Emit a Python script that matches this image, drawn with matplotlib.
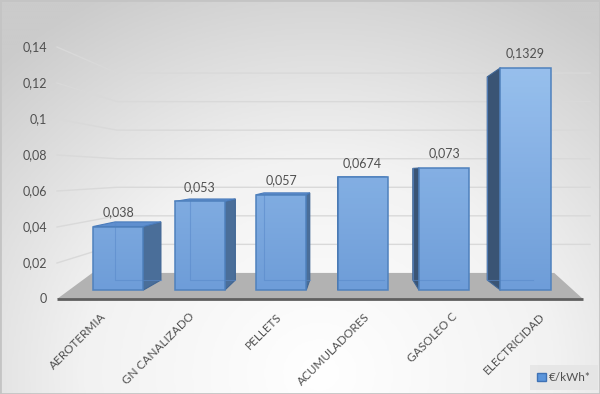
import numpy as np
import matplotlib.pyplot as plt
from matplotlib.patches import Polygon, Rectangle
from matplotlib.colors import LinearSegmentedColormap

# Data
categories = ["AEROTERMIA", "GN CANALIZADO", "PELLETS", "ACUMULADORES", "GASOLEO C", "ELECTRICIDAD"]
values = [0.038, 0.053, 0.057, 0.0674, 0.073, 0.1329]
value_labels = ["0,038", "0,053", "0,057", "0,0674", "0,073", "0,1329"]
y_ticks = [0, 0.02, 0.04, 0.06, 0.08, 0.1, 0.12, 0.14]
y_tick_labels = ["0", "0,02", "0,04", "0,06", "0,08", "0,1", "0,12", "0,14"]
legend_label = "€/kWh*"

plt.rcParams['font.family'] = ['Lato', 'DejaVu Sans']
text_col = '#505050'

W, H = 600, 394
fig = plt.figure(figsize=(W / 100, H / 100), dpi=100)
ax = fig.add_axes([0, 0, 1, 1])
ax.axis('off')

# front plane: category -0.5..5.5 spans px 57..583, value 0 at px 299, 1800 px per unit
px_cat = 526 / 6
px_val = 1800.0
xlim = (-0.5 - 57 / px_cat, -0.5 + (W - 57) / px_cat)
ylim = ((299 - H) / px_val, 299 / px_val)

# fake perspective: shrink toward a vanishing point
vx, vy = -0.5 + (347 - 57) / px_cat, (299 - 173) / px_val
s_wall = 0.793
s_front = 0.929
s_back = 0.849
s_floor_x = 0.878


def proj(x, v, s, sx=None):
    if sx is None:
        sx = s
    return (vx + sx * (x - vx), vy + s * (v - vy))


# background gradient
gx, gy = np.meshgrid(np.linspace(0, W, 300), np.linspace(0, H, 200))
d = np.clip(np.hypot((gx - 320) / 1.1, gy - 20) / 430, 0, 1)
bg_cmap = LinearSegmentedColormap.from_list('bg', ['#ffffff', '#f2f2f2', '#cbcbcb'])
ax.imshow(d, extent=(xlim[0], xlim[1], ylim[1], ylim[0]), cmap=bg_cmap, vmin=0, vmax=1,
          aspect='auto', zorder=0, interpolation='bilinear')

# gridlines on side wall and back wall
x_back_right = -0.5 + (590 - 57) / px_cat
for v in y_ticks[1:]:
    bx, by = proj(-0.5, v, s_wall)
    ax.plot([-0.5, bx, x_back_right], [v, by, by], color='#d9d9d9', lw=1, zorder=1)

# floor
floor = [(-0.5, 0), (5.5, 0), proj(5.5, 0, s_wall, s_floor_x), proj(-0.5, 0, s_wall, s_floor_x)]
ax.add_patch(Polygon(floor, closed=True, facecolor='#b2b2b2', edgecolor='none', zorder=2))
ax.plot([-0.5, 5.5], [0, 0], color='#5f5f5f', lw=2, zorder=3, solid_capstyle='butt')

# bars
half = 0.308
face_cmap = LinearSegmentedColormap.from_list('face', ['#6f9ed9', '#9dc4f0'])
grad = np.linspace(0, 1, 256).reshape(-1, 1)
for i, v in enumerate(values):
    xl, xr = i - half, i + half
    fl0, fr0, fr1, fl1 = proj(xl, 0, s_front), proj(xr, 0, s_front), proj(xr, v, s_front), proj(xl, v, s_front)
    bl0, br0, br1, bl1 = proj(xl, 0, s_back), proj(xr, 0, s_back), proj(xr, v, s_back), proj(xl, v, s_back)

    # side face
    if i < vx:
        side, side_col = [fr0, br0, br1, fr1], '#4a6e99'
    else:
        side, side_col = [fl0, bl0, bl1, fl1], '#3a5474'
    ax.add_patch(Polygon(side, closed=True, facecolor=side_col, edgecolor='#3f6594', lw=0.8, zorder=4))

    # top face, visible when below eye level
    if v < vy:
        ax.add_patch(Polygon([fl1, fr1, br1, bl1], closed=True, facecolor='#5f8fcf',
                             edgecolor='#4a7cbc', lw=0.8, zorder=4))

    # front face with gradient
    front = Polygon([fl0, fr0, fr1, fl1], closed=True, facecolor='#6d9cd9', edgecolor='none',
                    zorder=5, label=legend_label if i == 0 else '_nolegend_')
    ax.add_patch(front)
    top_frac = v / 0.14
    im = ax.imshow(grad * top_frac, extent=(fl0[0], fr0[0], fl0[1], fl1[1]), origin='lower',
                   cmap=face_cmap, vmin=0, vmax=1, aspect='auto', zorder=5.1, alpha=0.95)
    im.set_clip_path(front)

    # back edges showing through the translucent face
    ax.plot([bl1[0], bl0[0], br0[0]], [bl1[1], bl0[1], br0[1]], color='#5a8acb', lw=0.8,
            alpha=0.6, zorder=5.2)
    ax.add_patch(Polygon([fl0, fr0, fr1, fl1], closed=True, facecolor='none', edgecolor='#4f81bd',
                         lw=1.1, zorder=5.3))

    # data label
    ax.annotate(value_labels[i], xy=((fl1[0] + fr1[0]) / 2, fl1[1]), xytext=(0, 6),
                textcoords='offset points', ha='center', va='bottom', fontsize=9, color=text_col,
                zorder=6)

# y axis labels
for v, lab in zip(y_ticks, y_tick_labels):
    ax.annotate(lab, xy=(-0.5, v), xytext=(-10, 0), textcoords='offset pixels',
                ha='right', va='center', fontsize=9, color=text_col)

# category labels
for i, cat in enumerate(categories):
    ax.annotate(cat, xy=(i, 0), xytext=(0, -12), textcoords='offset pixels', rotation=45,
                rotation_mode='anchor', ha='right', va='top', fontsize=8.5, color=text_col)

ax.set_xlim(*xlim)
ax.set_ylim(*ylim)

leg = ax.legend(loc='lower right', bbox_to_anchor=(598 / W, 1 - 390 / H), borderaxespad=0,
                fontsize=8.5, frameon=True, fancybox=False, handlelength=0.7, handleheight=0.7,
                handletextpad=0.3, borderpad=0.6)
leg.get_frame().set_facecolor('#e4e4e4')
leg.get_frame().set_edgecolor('none')
for t in leg.get_texts():
    t.set_color(text_col)
for h in leg.legend_handles:
    h.set_edgecolor('#3f72b5')
    h.set_facecolor('#5b95db')

# thin outer border
ax.add_patch(Rectangle((0, 0), 1, 1, transform=fig.transFigure, fill=False,
                       edgecolor='#c4c4c4', lw=2, zorder=10))

fig.savefig('out.png', dpi=100)
